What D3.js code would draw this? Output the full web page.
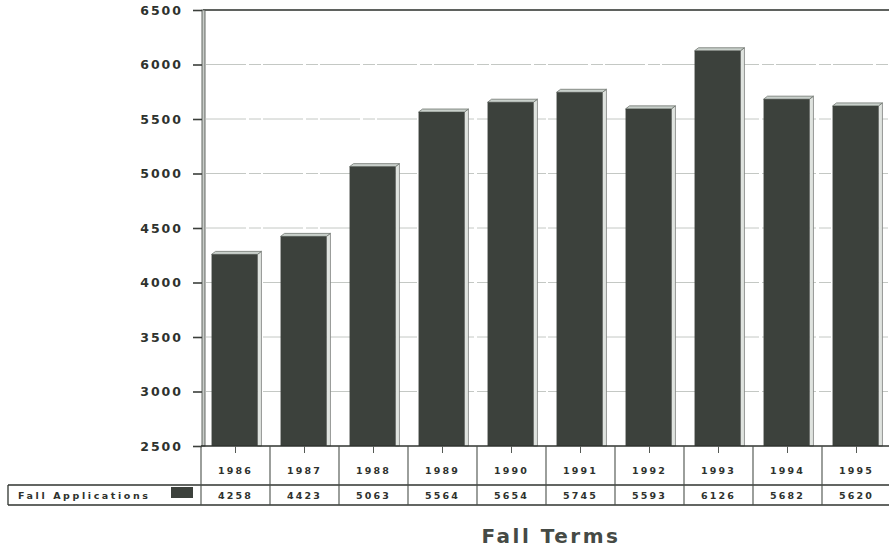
<!DOCTYPE html>
<html>
<head>
<meta charset="utf-8">
<script src="https://cdn.jsdelivr.net/npm/d3@7/dist/d3.min.js"></script>
<style>
  html, body { margin: 0; padding: 0; background: #ffffff; }
  svg { display: block; }
</style>
</head>
<body>
<script>
// ---- data ----
const years = ["1986", "1987", "1988", "1989", "1990", "1991", "1992", "1993", "1994", "1995"];
const applications = [4258, 4423, 5063, 5564, 5654, 5745, 5593, 6126, 5682, 5620];
const yTicks = [2500, 3000, 3500, 4000, 4500, 5000, 5500, 6000, 6500];
const seriesName = "Fall Applications";
const xTitle = "Fall Terms";

// ---- layout ----
const W = 889, H = 549;
const plotLeft = 201, plotRight = 891, plotTop = 10, plotBottom = 446;
const row1Bottom = 484, row2Bottom = 505, legendLeft = 8;

const svg = d3.select("body").append("svg").attr("width", W).attr("height", H);

const x = d3.scaleBand().domain(years).range([plotLeft, plotRight]).paddingInner(0).paddingOuter(0);
const y = d3.scaleLinear().domain([2500, 6500]).range([plotBottom, plotTop]);

const ink = "#3b3f3b";
const barFill = "#3c413c";
const fontBold = "'DejaVu Sans', sans-serif";

// gridlines
svg.append("g").selectAll("line").data(yTicks.filter(d => d > 2500 && d < 6500)).join("line")
  .attr("x1", plotLeft + 5).attr("x2", plotRight)
  .attr("y1", d => y(d)).attr("y2", d => y(d))
  .attr("stroke", "#c4c8c4").attr("stroke-width", 1)
  .attr("stroke-dasharray", "40,3,12,2");

// top border
svg.append("line").attr("x1", plotLeft + 2).attr("x2", W).attr("y1", y(6500)).attr("y2", y(6500))
  .attr("stroke", "#2a2e2a").attr("stroke-width", 1.6);

// bars
const bw = x.bandwidth() * 0.665;
const d3d = 4;
const bars = svg.append("g").selectAll("g").data(years.map((yr, i) => ({yr, v: applications[i]}))).join("g");
bars.each(function(d) {
  const g = d3.select(this);
  const bx = x(d.yr) + x.bandwidth() / 2 - bw / 2 - 1;
  const by = y(d.v);
  const base = y(2500);
  g.append("polygon")
    .attr("points", [[bx + bw, by], [bx + bw + d3d, by - d3d + 1], [bx + bw + d3d, base], [bx + bw, base]].map(p => p.join(",")).join(" "))
    .attr("fill", "#dfe3df").attr("stroke", "#7d827d").attr("stroke-width", 0.8);
  g.append("polygon")
    .attr("points", [[bx, by], [bx + d3d, by - d3d + 1], [bx + bw + d3d, by - d3d + 1], [bx + bw, by]].map(p => p.join(",")).join(" "))
    .attr("fill", "#c9d0cb").attr("stroke", "#6f756f").attr("stroke-width", 0.8);
  g.append("rect").attr("x", bx).attr("y", by).attr("width", bw).attr("height", base - by)
    .attr("fill", barFill);
});

// y axis (double line)
svg.append("rect").attr("x", plotLeft + 1).attr("y", plotTop).attr("width", 3).attr("height", plotBottom - plotTop)
  .attr("fill", "#c8ccc8").attr("stroke", "#555a55").attr("stroke-width", 0.9);

// y ticks and labels
const yAxis = d3.axisLeft(y).tickValues(yTicks).tickSize(9).tickPadding(10).tickFormat(d3.format("d"));
const ya = svg.append("g").attr("transform", `translate(${plotLeft + 1},0)`).call(yAxis);
ya.select(".domain").remove();
ya.selectAll(".tick line").attr("stroke", ink).attr("stroke-width", 1.6);
ya.selectAll(".tick text")
  .attr("fill", "#2e322e").attr("font-family", fontBold).attr("font-weight", "bold")
  .attr("font-size", "12.5px").attr("letter-spacing", "2px");

// ---- data table ----
const tbl = svg.append("g");
tbl.append("line").attr("x1", plotLeft).attr("x2", W).attr("y1", plotBottom).attr("y2", plotBottom)
  .attr("stroke", "#2f332f").attr("stroke-width", 1.6);
tbl.append("line").attr("x1", legendLeft).attr("x2", W).attr("y1", row1Bottom + 1).attr("y2", row1Bottom + 1)
  .attr("stroke", "#2f332f").attr("stroke-width", 1.3);
tbl.append("line").attr("x1", legendLeft).attr("x2", W).attr("y1", row2Bottom).attr("y2", row2Bottom)
  .attr("stroke", "#2f332f").attr("stroke-width", 1.3);
tbl.append("line").attr("x1", legendLeft).attr("x2", legendLeft).attr("y1", row1Bottom + 1).attr("y2", row2Bottom)
  .attr("stroke", "#2f332f").attr("stroke-width", 1.3);
const seps = years.map(yr => x(yr)).concat([x(years[years.length - 1]) + x.bandwidth()]);
tbl.selectAll("line.sep").data(seps).join("line").attr("class", "sep")
  .attr("x1", d => d).attr("x2", d => d).attr("y1", plotBottom).attr("y2", row2Bottom)
  .attr("stroke", "#4a4f4a").attr("stroke-width", 1.1);
tbl.selectAll("line.ct").data(years).join("line").attr("class", "ct")
  .attr("x1", d => x(d) + x.bandwidth() / 2).attr("x2", d => x(d) + x.bandwidth() / 2)
  .attr("y1", plotBottom).attr("y2", plotBottom + 7)
  .attr("stroke", "#555a55").attr("stroke-width", 1);
tbl.selectAll("text.yr").data(years).join("text").attr("class", "yr")
  .attr("x", d => x(d) + x.bandwidth() / 2).attr("y", 474)
  .attr("text-anchor", "middle").attr("fill", "#2e322e")
  .attr("font-family", fontBold).attr("font-weight", "bold").attr("font-size", "9.5px").attr("letter-spacing", "2.2px")
  .text(d => d);
tbl.selectAll("text.val").data(years.map((yr, i) => ({yr, v: applications[i]}))).join("text").attr("class", "val")
  .attr("x", d => x(d.yr) + x.bandwidth() / 2).attr("y", 499)
  .attr("text-anchor", "middle").attr("fill", "#2e322e")
  .attr("font-family", fontBold).attr("font-weight", "bold").attr("font-size", "9.5px").attr("letter-spacing", "2.2px")
  .text(d => d.v);
tbl.append("text").attr("x", 18).attr("y", 499)
  .attr("fill", "#2e322e").attr("font-family", fontBold).attr("font-weight", "bold")
  .attr("font-size", "9.5px").attr("letter-spacing", "2.6px").text(seriesName);
tbl.append("rect").attr("x", 171).attr("y", 487).attr("width", 22).attr("height", 11).attr("fill", barFill);

// axis title
svg.append("text").attr("x", 551).attr("y", 543).attr("text-anchor", "middle")
  .attr("fill", "#454a45").attr("font-family", fontBold).attr("font-weight", "bold")
  .attr("font-size", "20px").attr("letter-spacing", "2.5px").text(xTitle);
</script>
</body>
</html>
